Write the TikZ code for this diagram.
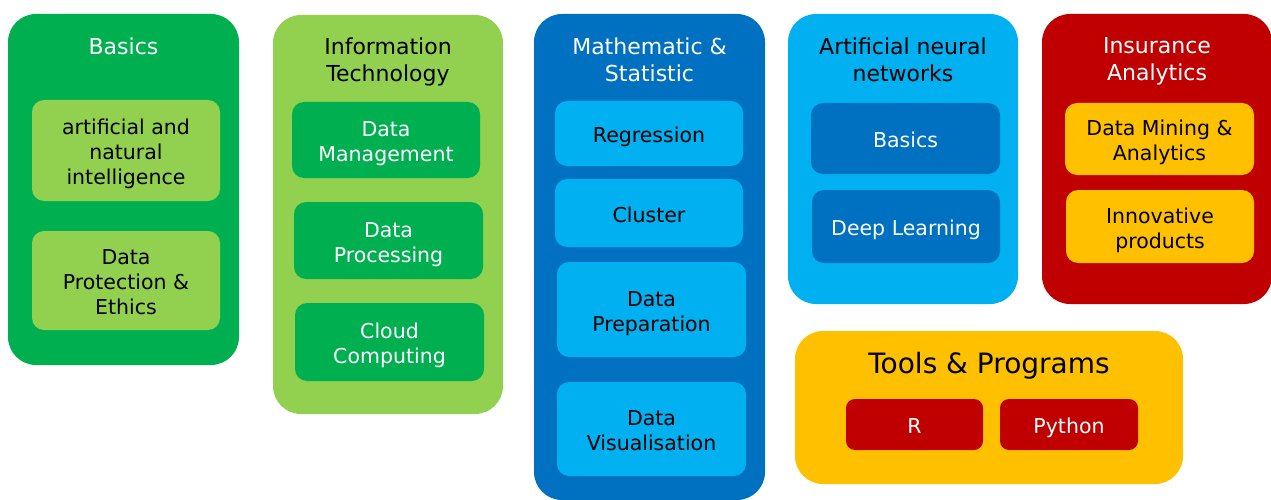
\documentclass[tikz,border=0pt]{standalone}
\usepackage{fontspec}
\setmainfont{DejaVu Sans}
\definecolor{dgreen}{HTML}{00B050}
\definecolor{lgreen}{HTML}{92D050}
\definecolor{dblue}{HTML}{0070C0}
\definecolor{lblue}{HTML}{00B0F0}
\definecolor{dred}{HTML}{C00000}
\definecolor{gold}{HTML}{FFC000}
\newcommand{\topstrut}{\rule{0pt}{23pt}}
\newcommand{\botstrut}{\rule[-5pt]{0pt}{5pt}}
\begin{document}
\begin{tikzpicture}[x=1pt,y=-1pt,
  panel/.style={rectangle, rounded corners=28pt, inner sep=0pt},
  card/.style={rectangle, rounded corners=12pt, inner sep=0pt, align=center,
    font=\fontsize{20.5}{25}\selectfont},
  ttl/.style={anchor=north, inner sep=0pt, align=center,
    font=\fontsize{22}{27}\selectfont}]
\fill[white] (0,0) rectangle (1271,500);
\useasboundingbox (0,0) rectangle (1271,500);
% Basics
\node[panel, fill=dgreen, minimum width=231pt, minimum height=351pt] (basics) at (123.5,189.5) {};
\node[ttl, text=white] (basicsT) at (123.5,37.5) {Basics};
\node[card, fill=lgreen, minimum width=188pt, minimum height=101pt] (ani) at (126,150.5) {\topstrut artificial and\\natural\\intelligence\botstrut};
\node[card, fill=lgreen, minimum width=188pt, minimum height=99pt] (dpe) at (126,280.5) {\topstrut Data\\Protection \&\\Ethics\botstrut};
% Information Technology
\node[panel, fill=lgreen, minimum width=230pt, minimum height=399pt] (it) at (388,214.5) {};
\node[ttl, text=black] (itT) at (388,37.5) {Information\\Technology};
\node[card, fill=dgreen, text=white, minimum width=188pt, minimum height=76pt] (dm) at (386,140) {\topstrut Data\\Management\botstrut};
\node[card, fill=dgreen, text=white, minimum width=189pt, minimum height=77pt] (dp) at (388.5,240.5) {\topstrut Data\\Processing\botstrut};
\node[card, fill=dgreen, text=white, minimum width=189pt, minimum height=78pt] (cc) at (389.5,342) {\topstrut Cloud\\Computing\botstrut};
% Mathematic & Statistic
\node[panel, fill=dblue, minimum width=231pt, minimum height=486pt] (ms) at (649.5,257) {};
\node[ttl, text=white] (msT) at (649.5,37.5) {Mathematic \&\\Statistic};
\node[card, fill=lblue, minimum width=188pt, minimum height=65pt] (reg) at (649,133.5) {\topstrut Regression\botstrut};
\node[card, fill=lblue, minimum width=188pt, minimum height=68pt] (clu) at (649,213) {\topstrut Cluster\botstrut};
\node[card, fill=lblue, minimum width=189pt, minimum height=95pt] (dprep) at (651.5,309.5) {\topstrut Data\\Preparation\botstrut};
\node[card, fill=lblue, minimum width=189pt, minimum height=94pt] (dvis) at (651.5,429) {\topstrut Data\\Visualisation\botstrut};
% Artificial neural networks
\node[panel, fill=lblue, minimum width=230pt, minimum height=290pt] (ann) at (903,159) {};
\node[ttl, text=black] (annT) at (903,37.5) {Artificial neural\\networks};
\node[card, fill=dblue, text=white, minimum width=189pt, minimum height=71pt] (annb) at (905.5,138.5) {\topstrut Basics\botstrut};
\node[card, fill=dblue, text=white, minimum width=188pt, minimum height=73pt] (dl) at (906,226.5) {\topstrut Deep Learning\botstrut};
% Insurance Analytics
\node[panel, fill=dred, minimum width=230pt, minimum height=290pt] (ins) at (1157,159) {};
\node[ttl, text=white] (insT) at (1157,37.5) {Insurance\\Analytics};
\node[card, fill=gold, minimum width=189pt, minimum height=72pt] (dma) at (1159.5,139) {\topstrut Data Mining \&\\Analytics\botstrut};
\node[card, fill=gold, minimum width=188pt, minimum height=73pt] (ip) at (1160,226.5) {\topstrut Innovative\\products\botstrut};
% Tools & Programs
\node[panel, fill=gold, minimum width=388pt, minimum height=153pt] (tools) at (989,407.5) {};
\node[ttl, text=black, font=\fontsize{28}{33}\selectfont] (toolsT) at (989,352) {Tools \& Programs};
\node[card, fill=dred, text=white, rounded corners=9pt, minimum width=137pt, minimum height=51pt] (r) at (914.5,424.5) {\topstrut R\botstrut};
\node[card, fill=dred, text=white, rounded corners=9pt, minimum width=138pt, minimum height=51pt] (py) at (1069,424.5) {\topstrut Python\botstrut};
\end{tikzpicture}
\end{document}
